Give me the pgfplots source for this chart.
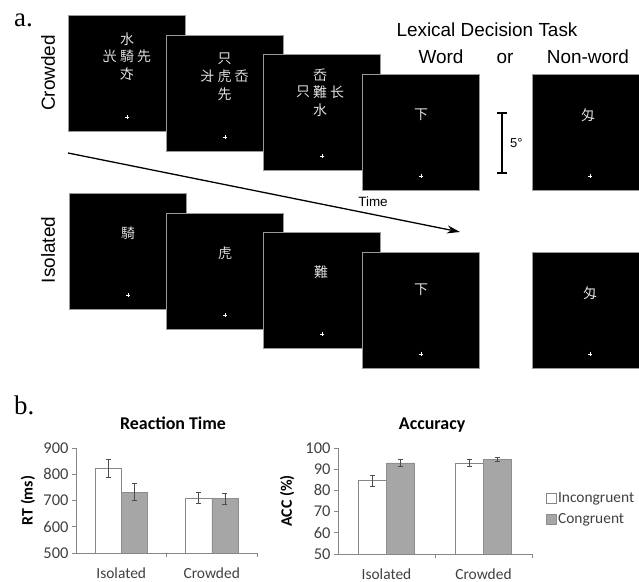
\documentclass[border=0pt]{standalone}
\usepackage{fontspec}
\usepackage{graphicx}
\usepackage{pgfplots}
\pgfplotsset{compat=1.18}
\usetikzlibrary{arrows.meta}
\setmainfont{Liberation Sans}
\newfontfamily\serifa{Liberation Serif}
\newfontfamily\calf{Carlito}
\newfontfamily\cjk{Noto Sans CJK TC}
\definecolor{axgray}{HTML}{868686}
\definecolor{bargray}{HTML}{A6A6A6}
\definecolor{txt}{HTML}{404040}
\definecolor{chr}{HTML}{E0E0E0}

\newcommand{\sq}[2]{\fill[black] (#1,#2) rectangle ++(117,116);
  \draw[black!40,line width=0.8bp] (#1,#2) rectangle ++(117,116);}
\newcommand{\fix}[2]{\draw[white,line width=0.7bp] (#1-2,#2)--(#1+2,#2) (#1,#2-2)--(#1,#2+2);}
\newcommand{\ch}[3]{\node[text=chr,inner sep=0pt,font=\cjk\fontsize{14}{14}\selectfont] at (#1,#2) {#3};}
\newcommand{\crowd}[7]{\ch{#1}{#2}{#3}\ch{#1}{#2-17}{#4}\ch{#1-17}{#2}{#5}\ch{#1+17}{#2}{#6}\ch{#1}{#2+18}{#7}}

\pgfplotsset{excel/.style={
  scale only axis, anchor=south west,
  axis x line=bottom, axis y line=left, axis line style={draw=axgray,-,line width=0.7bp},
  xmin=0.5, xmax=2.5, xtick={1,2}, xticklabels={Isolated,Crowded},
  xtick style={draw=none},
  extra x ticks={1.5,2.5}, extra x tick labels={},
  extra x tick style={xtick style={draw=axgray,line width=0.7bp}},
  ytick style={draw=axgray,line width=0.7bp}, tick align=outside, major tick length=4bp,
  ybar, bar width=0.29,
  xticklabel style={font=\calf\fontsize{15.5}{18}\selectfont, text=txt, yshift=-7bp},
  yticklabel style={font=\calf\fontsize{16.5}{19}\selectfont, text=txt},
  /pgf/number format/assume math mode=true,
  label style={font=\calf\bfseries\fontsize{16}{19}\selectfont},
  title style={font=\calf\bfseries\fontsize{18}{21}\selectfont, anchor=center},
  error bars/y dir=both, error bars/y explicit,
  error bars/error bar style={draw=black!70, line width=0.6bp},
  error bars/error mark options={rotate=90, mark size=2.5bp, draw=black!70, line width=0.6bp},
}}

\begin{document}
\begin{tikzpicture}
\useasboundingbox (0,0) rectangle (639bp,582bp);
\clip (0,0) rectangle (639bp,582bp);
\begin{scope}[x=1bp,y=-1bp,shift={(0bp,582bp)}]
% squares crowded
\sq{68}{15}\sq{166}{35}\sq{263}{54}\sq{362}{74}\sq{532}{74}
% isolated squares
\sq{69}{193}\sq{166}{213}\sq{263}{232}\sq{362}{252}\sq{532}{252}
% characters
\crowd{127}{56}{騎}{水}{\reflectbox{光}}{先}{\reflectbox{衣}}
\crowd{224.5}{76}{虎}{只}{\reflectbox{长}}{岙}{先}
\crowd{320}{92}{難}{岙}{只}{长}{水}
\ch{421}{115}{下}
\ch{588}{115}{匁}
\ch{128}{233}{騎}
\ch{225}{253}{虎}
\ch{321}{272}{難}
\ch{421}{290}{下}
\ch{590}{293}{匁}
% fixations
\fix{127}{117}\fix{225}{137}\fix{322}{156}\fix{421}{176}\fix{590}{176}
\fix{128}{295}\fix{225}{315}\fix{322}{334}\fix{421}{354}\fix{590}{354}
% arrow
\draw[line width=1.3bp,-{Stealth[length=13bp,width=8bp]}] (68,153) -- (460,232);
\node[anchor=base,font=\fontsize{13.5}{16}\selectfont] at (373,207) {Time};
% scale bar
\draw[line width=1.4bp] (502,113)--(502,173) (497,113)--(507,113) (497,173)--(507,173);
\node[anchor=base west,inner sep=0pt,font=\fontsize{13}{15}\selectfont] at (510,148) {5°};
% labels
\node[anchor=base west,inner sep=0pt,font=\serifa\fontsize{27}{30}\selectfont] at (14,27) {a.};
\node[anchor=base west,inner sep=0pt,font=\serifa\fontsize{27}{30}\selectfont] at (14,415) {b.};
\node[rotate=90,font=\fontsize{19}{22}\selectfont] at (48,73) {Crowded};
\node[rotate=90,font=\fontsize{19}{22}\selectfont] at (48,250) {Isolated};
\node[anchor=base,font=\fontsize{19}{22}\selectfont] at (487,37) {Lexical Decision Task};
\node[anchor=base,font=\fontsize{19}{22}\selectfont] at (441,64) {Word};
\node[anchor=base,font=\fontsize{19}{22}\selectfont] at (505,64) {or};
\node[anchor=base,font=\fontsize{19}{22}\selectfont] at (588,64) {Non-word};
\end{scope}

\begin{axis}[excel, at={(76bp,29bp)}, width=181bp, height=105bp,
  ymin=500, ymax=900, ytick={500,600,700,800,900},
  ylabel={RT (ms)}, ylabel style={at={(axis description cs:-0.265,0.5)}, anchor=center},
  title={Reaction Time}, title style={at={(axis description cs:0.536,1.18)}}]
\addplot[fill=white, draw=axgray, bar shift=-0.145] coordinates {(1,824) +- (0,34) (2,710) +- (0,20)};
\addplot[fill=bargray, draw=bargray!85!black, bar shift=0.145] coordinates {(1,732) +- (0,33) (2,707) +- (0,20)};
\end{axis}

\begin{axis}[excel, at={(338bp,28bp)}, width=194bp, height=106bp,
  ymin=50, ymax=100, ytick={50,60,70,80,90,100},
  ylabel={ACC (\%)}, ylabel style={at={(axis description cs:-0.262,0.5)}, anchor=center},
  title={Accuracy}, title style={at={(axis description cs:0.485,1.16)}},
  legend style={at={(axis description cs:1.072,0.60)}, anchor=north west, draw=none, fill=none,
    inner sep=0pt, row sep=7bp, font=\calf\fontsize{15.5}{18}\selectfont, text=txt,
    cells={anchor=west}, nodes={inner sep=1.5bp}}]
\addplot[fill=white, draw=axgray, bar shift=-0.145,
  legend image code/.code={\draw[fill=white,draw=axgray] (0bp,-5bp) rectangle (10bp,5bp);}]
  coordinates {(1,84.6) +- (0,2.5) (2,93.0) +- (0,1.5)};
\addlegendentry{Incongruent}
\addplot[fill=bargray, draw=bargray!85!black, bar shift=0.145,
  legend image code/.code={\draw[fill=bargray,draw=bargray!85!black] (0bp,-5bp) rectangle (10bp,5bp);}]
  coordinates {(1,93.0) +- (0,1.5) (2,94.6) +- (0,1.0)};
\addlegendentry{Congruent}
\end{axis}
\end{tikzpicture}
\end{document}
